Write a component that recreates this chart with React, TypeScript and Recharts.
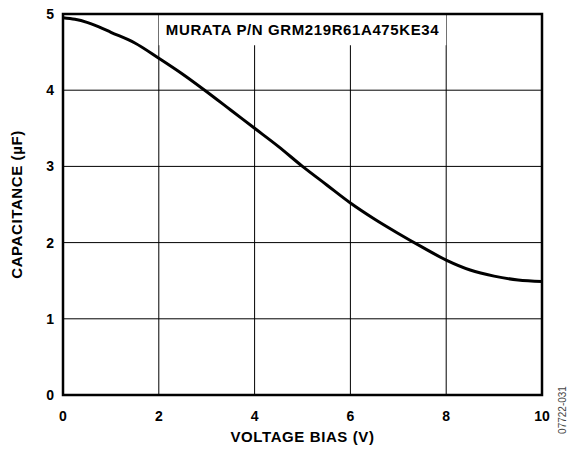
import {
  LineChart,
  Line,
  XAxis,
  YAxis,
  CartesianGrid,
  ReferenceArea,
} from "recharts";

const voltage = [0, 0.25, 0.5, 0.75, 1, 1.5, 2, 2.5, 3, 3.5, 4, 4.5, 5, 5.5, 6, 6.5, 7, 7.5, 8, 8.5, 9, 9.5, 10];
const capacitance = [
  4.95, 4.93, 4.89, 4.83, 4.76, 4.62, 4.42, 4.21, 3.98, 3.74, 3.5, 3.26, 3.0, 2.76, 2.52, 2.31, 2.12, 1.94, 1.77,
  1.64, 1.56, 1.51, 1.49,
];
const xTicks = [0, 2, 4, 6, 8, 10];
const yTicks = [0, 1, 2, 3, 4, 5];

const partName = "MURATA P/N GRM219R61A475KE34";
const figureId = "07722-031";

const data = voltage.map((v, i) => ({ v, c: capacitance[i] }));

const font = "Arial, 'Liberation Sans', Helvetica, sans-serif";
const tickStyle = { fill: "#000", fontSize: 14, fontWeight: "bold", fontFamily: font };
const titleStyle = {
  fill: "#000",
  fontSize: 15,
  fontWeight: "bold",
  fontFamily: font,
  letterSpacing: 0.6,
};

export default function App() {
  return (
    <div style={{ position: "relative", width: 569, height: 449, background: "#fff" }}>
      <style>{"body{margin:0}"}</style>
      <LineChart width={569} height={449} data={data} margin={{ top: 14, right: 27, left: 0, bottom: 0 }}>
        <CartesianGrid stroke="#000" strokeWidth={1} />
        <XAxis
          dataKey="v"
          type="number"
          domain={[0, 10]}
          ticks={xTicks}
          height={54}
          axisLine={false}
          tickLine={false}
          tickMargin={10}
          tick={tickStyle}
          label={{ value: "VOLTAGE BIAS (V)", position: "insideBottom", offset: 7, ...titleStyle }}
        />
        <YAxis
          type="number"
          domain={[0, 5]}
          ticks={yTicks}
          width={63}
          axisLine={false}
          tickLine={false}
          tickMargin={3}
          tick={tickStyle}
          label={{
            value: "CAPACITANCE (µF)",
            angle: -90,
            position: "insideLeft",
            offset: 17,
            ...titleStyle,
            style: { textAnchor: "middle" },
          }}
        />
        <ReferenceArea
          x1={2}
          x2={8}
          y1={4.59}
          y2={5}
          fill="#fff"
          fillOpacity={1}
          stroke="none"
          label={{ value: partName, position: "center", ...titleStyle }}
        />
        <ReferenceArea
          x1={0}
          x2={10}
          y1={0}
          y2={5}
          fill="none"
          stroke="#000"
          strokeWidth={2.5}
          ifOverflow="visible"
        />
        <Line
          dataKey="c"
          type="monotone"
          stroke="#000"
          strokeWidth={3}
          dot={false}
          isAnimationActive={false}
        />
      </LineChart>
      <div
        style={{
          position: "absolute",
          left: 562,
          top: 410,
          transform: "translate(-50%, -50%) rotate(-90deg)",
          fontFamily: font,
          fontSize: 10,
          color: "#444",
          whiteSpace: "nowrap",
        }}
      >
        {figureId}
      </div>
    </div>
  );
}
